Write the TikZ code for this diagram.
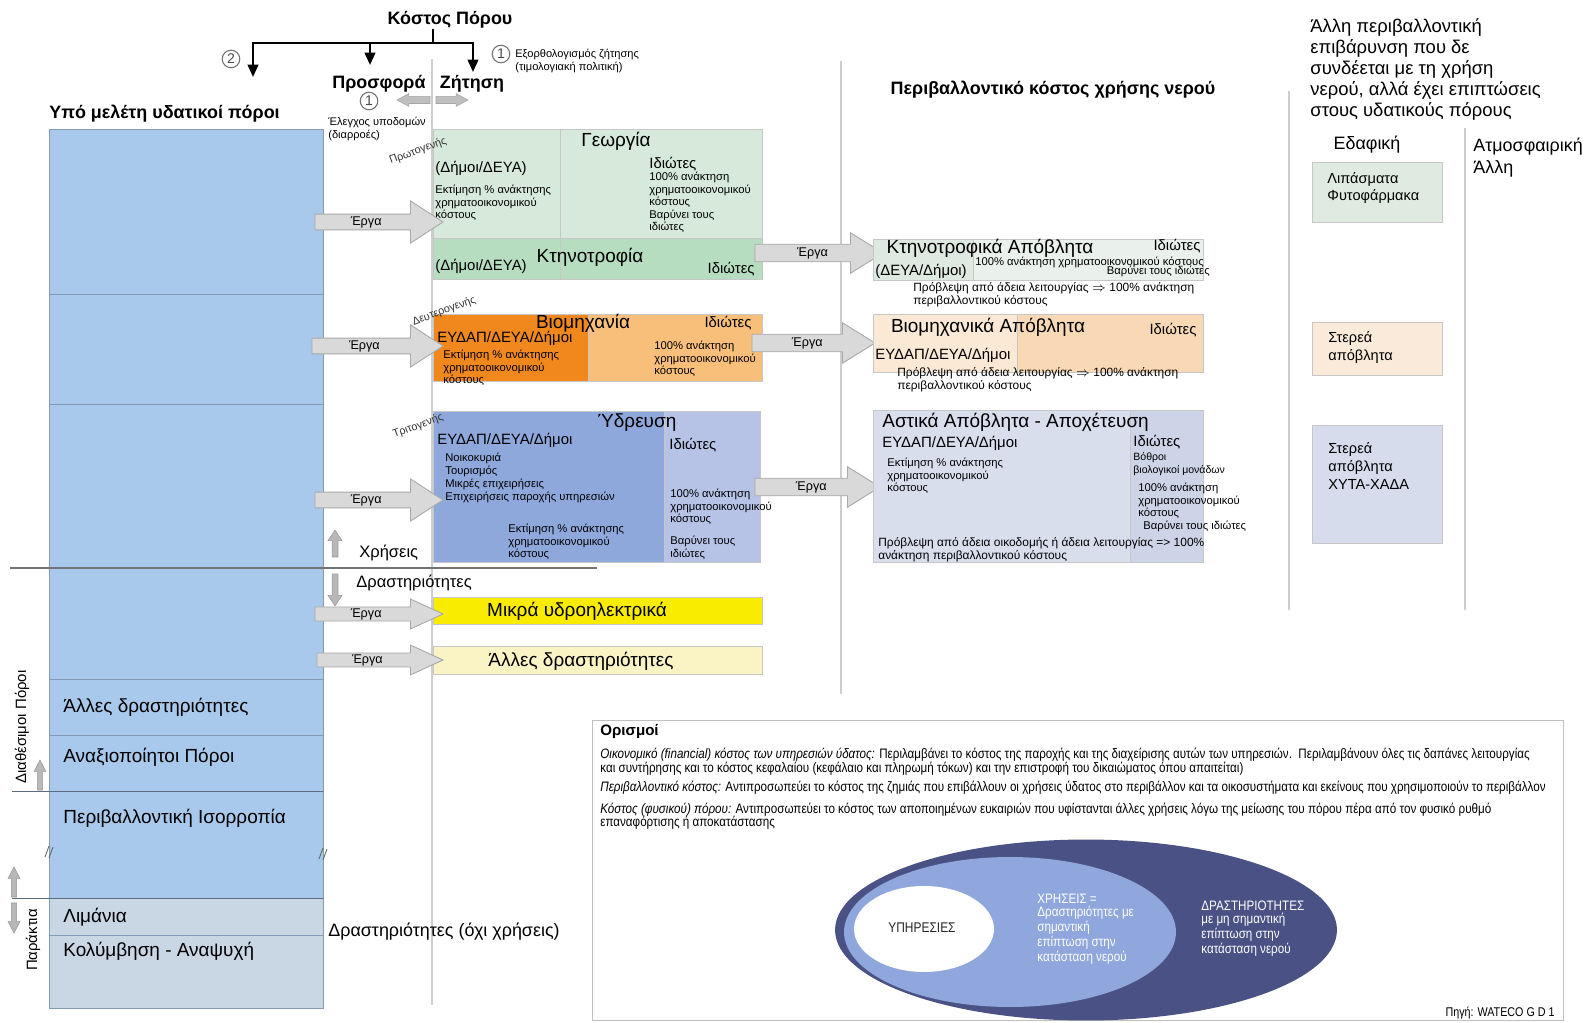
\documentclass[tikz,border=0pt]{standalone}
\usepackage{fontspec}
\setmainfont{Liberation Sans}
\newfontfamily\narrowfont{Liberation Sans}[FakeStretch=0.85]
\usetikzlibrary{positioning, calc, shapes.geometric, arrows.meta}

\definecolor{colblue}{RGB}{168,201,236}
\definecolor{colgrey}{RGB}{201,214,228}
\definecolor{colline}{RGB}{130,155,185}
\definecolor{geogreen}{RGB}{214,233,219}
\definecolor{ktngreen}{RGB}{183,221,193}
\definecolor{biodark}{RGB}{240,136,30}
\definecolor{biolight}{RGB}{248,191,122}
\definecolor{ydrdark}{RGB}{143,168,220}
\definecolor{ydrlight}{RGB}{182,195,230}
\definecolor{mikyellow}{RGB}{250,236,0}
\definecolor{allyellow}{RGB}{250,243,196}
\definecolor{ktwleft}{RGB}{222,233,226}
\definecolor{ktwright}{RGB}{234,240,236}
\definecolor{bwleft}{RGB}{252,233,213}
\definecolor{bwright}{RGB}{249,217,181}
\definecolor{awleft}{RGB}{217,222,237}
\definecolor{awright}{RGB}{206,212,231}
\definecolor{lipgreen}{RGB}{223,235,224}
\definecolor{sterpeach}{RGB}{250,234,218}
\definecolor{xytablue}{RGB}{214,220,236}
\definecolor{ellnavy}{RGB}{74,82,133}
\definecolor{ellblue}{RGB}{143,167,221}
\definecolor{ergafill}{RGB}{217,217,217}
\definecolor{ergaline}{RGB}{168,168,168}
\definecolor{ruleg}{RGB}{205,205,205}

% block arrow: [style]{start}{tip}{body half}{head half}{head length}
\newcommand{\blockarrow}[6][]{%
  \coordinate (hb) at ($(#3)!#6!(#2)$);
  \draw[#1] ($(#2)!#4!90:(#3)$) -- ($(hb)!#4!-90:(#2)$) -- ($(hb)!#5!-90:(#2)$)
    -- (#3) -- ($(hb)!#5!90:(#2)$) -- ($(hb)!#4!90:(#2)$) -- ($(#2)!#4!-90:(#3)$) -- cycle;}

\tikzset{
  box/.style={draw=black!22, inner sep=0pt, anchor=north west},
  hd/.style={font=\bfseries\fontsize{10.2}{12}\selectfont, inner sep=0pt},
  big/.style={font=\fontsize{10.8}{12}\selectfont, inner sep=0pt},
  mid/.style={font=\fontsize{8.5}{10}\selectfont, inner sep=0pt},
  sm/.style={font=\fontsize{6.4}{7.1}\selectfont, inner sep=0pt, align=left, anchor=north west},
  tag/.style={font=\fontsize{6.2}{7}\selectfont, inner sep=0pt, rotate=20, text=black!80},
  erga/.style={fill=ergafill, draw=ergaline, line width=0.5pt},
  ergalabel/.style={font=\fontsize{7.2}{8}\selectfont, inner sep=0pt},
  circnum/.style={circle, draw=black!55, line width=0.6pt, inner sep=0.4pt, minimum size=10pt,
    font=\fontsize{8}{8}\selectfont, text=black!70},
  divider/.style={draw=ruleg, line width=1.2pt},
  bracket/.style={line width=1.3pt, -{Triangle[length=7pt,width=6pt]}},
  defs/.style={font=\narrowfont\fontsize{7.8}{9}\selectfont, inner sep=0pt, anchor=west},
  elltext/.style={font=\narrowfont\fontsize{7.8}{7.4}\selectfont, inner sep=0pt, align=left, anchor=north west},
}

\begin{document}
\begin{tikzpicture}[x=0.02cm, y=-0.02cm]
\useasboundingbox (0,0) rectangle (1594,1023);
\fill[white] (0,0) rectangle (1594,1023);

% header
\node[hd] (kostos) at (450,20) {Κόστος Πόρου};
\coordinate (brc) at (433,43);
\coordinate (tip2) at (253,77);
\coordinate (tipp) at (370,65);
\coordinate (tipz) at (473,72);
\draw[line width=1.3pt] (kostos.south -| brc) -- (brc);
\draw[bracket] (brc) -| (tip2);
\draw[bracket] (brc) -| (tipp);
\draw[bracket] (brc) -| (tipz);
\node[circnum] (n2) at (231,59) {2};
\node[circnum] (n1a) at (501,54) {1};
\node[sm, font=\fontsize{6.3}{7.4}\selectfont] (rat) at (515,49) {Εξορθολογισμός ζήτησης\\(τιμολογιακή πολιτική)};
\node[hd] (prosf) at (379,84) {Προσφορά};
\node[hd] (zit) at (472,84) {Ζήτηση};
\node[circnum] (n1b) at (369,101) {1};
\node[sm, font=\fontsize{6.3}{7.4}\selectfont] (elegx) at (328,117) {Έλεγχος υποδομών\\(διαρροές)};
\coordinate (la) at (430,100); \coordinate (lb) at (397,100);
\coordinate (ra) at (436,100); \coordinate (rb) at (468,100);
\blockarrow[fill=black!25, draw=black!35, line width=0.3pt]{la}{lb}{2pt}{3.7pt}{6.8pt}
\blockarrow[fill=black!25, draw=black!35, line width=0.3pt]{ra}{rb}{2pt}{3.7pt}{6.8pt}

% dividers
\draw[divider] (432,59) -- (432,1005);
\draw[divider] (841,61) -- (841,694);
\draw[divider] (1289,91) -- (1289,610);
\draw[divider] (1465,128) -- (1465,610);

% water resources column
\node[hd, anchor=west] (ypo) at (49,114) {Υπό μελέτη υδατικοί πόροι};
\node[box, fill=colblue, draw=colline, minimum width=5.48cm, minimum height=15.38cm] (col) at (49,129) {};
\node[box, fill=colgrey, draw=colline, minimum width=5.48cm, minimum height=2.2cm] (colb) at (49,898) {};
\foreach \yy in {294,404,679,735,935}
  \draw[colline, line width=0.4pt] (49,\yy) -- (323,\yy);
\draw[black!55, line width=0.6pt] (10,568) -- (597,568);
\draw[colline!70!black, line width=0.5pt] (12,791) -- (323,791);
\draw[colline!70!black, line width=0.5pt] (12,898) -- (323,898);
\draw[black!60, line width=0.5pt] (45,857) -- (49,846) (49,858) -- (53,847);
\draw[black!60, line width=0.5pt] (319,859) -- (323,848) (323,860) -- (327,849);
\node[big, anchor=west] (allesd) at (63,707) {Άλλες δραστηριότητες};
\node[big, anchor=west] (anax) at (63,757) {Αναξιοποίητοι Πόροι};
\node[big, anchor=west] (isor) at (63,818) {Περιβαλλοντική Ισορροπία};
\node[big, anchor=west] (liman) at (63,917) {Λιμάνια};
\node[big, anchor=west] (kolym) at (63,951) {Κολύμβηση - Αναψυχή};
\node[mid, rotate=90] (diath) at (22,727) {Διαθέσιμοι Πόροι};
\node[mid, rotate=90] (parak) at (33,940) {Παράκτια};
\coordinate (u1a) at (40,790); \coordinate (u1b) at (40,760);
\coordinate (u2a) at (14,897); \coordinate (u2b) at (14,867);
\coordinate (d2a) at (14,903); \coordinate (d2b) at (14,933);
\blockarrow[fill=black!28, draw=black!40, line width=0.3pt]{u1a}{u1b}{1.5pt}{3.4pt}{6.5pt}
\blockarrow[fill=black!28, draw=black!40, line width=0.3pt]{u2a}{u2b}{1.5pt}{3.4pt}{6.5pt}
\blockarrow[fill=black!28, draw=black!40, line width=0.3pt]{d2a}{d2b}{1.5pt}{3.4pt}{6.5pt}
\node[big, font=\fontsize{10.2}{12}\selectfont, anchor=west] (doxi) at (328,932) {Δραστηριότητες (όχι χρήσεις)};

% uses / activities
\node[mid, font=\fontsize{9.4}{11}\selectfont, anchor=west] (xris) at (359,553) {Χρήσεις};
\node[mid, font=\fontsize{9.4}{11}\selectfont, anchor=west] (drast) at (356,583) {Δραστηριότητες};
\coordinate (xa) at (335,557); \coordinate (xb) at (335,530);
\coordinate (da) at (335,574); \coordinate (db) at (335,606);
\blockarrow[fill=black!28, draw=black!40, line width=0.3pt]{xa}{xb}{1.7pt}{4pt}{6pt}
\blockarrow[fill=black!28, draw=black!40, line width=0.3pt]{da}{db}{1.7pt}{4pt}{6pt}

% Γεωργία / Κτηνοτροφία
\node[box, fill=geogreen, minimum width=6.58cm, minimum height=2.18cm] (geo) at (433,129) {};
\node[box, fill=ktngreen, minimum width=6.58cm, minimum height=0.82cm] (ktn) at (433,238) {};
\draw[black!22] (560,129) -- (560,279);
\node[big] (geot) at (616,141) {Γεωργία};
\node[tag] (prot) at (418,151) {Πρωτογενής};
\node[mid, anchor=west] (geodim) at (435,168) {(Δήμοι/ΔΕΥΑ)};
\node[sm] (geoek) at (435,185) {Εκτίμηση \% ανάκτησης\\χρηματοοικονομικού\\κόστους};
\node[mid, anchor=west] (geoid) at (649,164) {Ιδιώτες};
\node[sm] (geo100) at (649,172) {100\% ανάκτηση\\χρηματοοικονομικού\\κόστους\\Βαρύνει τους\\ιδιώτες};
\node[mid, anchor=west] (ktndim) at (435,266) {(Δήμοι/ΔΕΥΑ)};
\node[big] (ktnt) at (590,257) {Κτηνοτροφία};
\node[mid, anchor=east] (ktnid) at (755,269) {Ιδιώτες};

% Βιομηχανία
\node[box, fill=biolight, minimum width=6.58cm, minimum height=1.34cm] (bio) at (433,314) {};
\node[box, fill=biodark, minimum width=3.1cm, minimum height=1.34cm] (biol) at (433,314) {};
\node[tag] (deut) at (444,311) {Δευτερογενής};
\node[big] (biot) at (583,323) {Βιομηχανία};
\node[mid] (bioid) at (728,323) {Ιδιώτες};
\node[mid, anchor=west] (biodim) at (437,338) {ΕΥΔΑΠ/ΔΕΥΑ/Δήμοι};
\node[sm] (bioek) at (443,350) {Εκτίμηση \% ανάκτησης\\χρηματοοικονομικού\\κόστους};
\node[sm] (bio100) at (654,341) {100\% ανάκτηση\\χρηματοοικονομικού\\κόστους};

% Ύδρευση
\node[box, fill=ydrlight, minimum width=6.54cm, minimum height=3.02cm] (ydr) at (433,411) {};
\node[box, fill=ydrdark, minimum width=4.62cm, minimum height=3.02cm] (ydrl) at (433,411) {};
\node[tag] (trit) at (418,426) {Τριτογενής};
\node[big] (ydrt) at (637,423) {Ύδρευση};
\node[mid, anchor=west] (ydrdim) at (437,440) {ΕΥΔΑΠ/ΔΕΥΑ/Δήμοι};
\node[sm, font=\fontsize{6.4}{7.4}\selectfont] (ydrnoik) at (445,453) {Νοικοκυριά\\Τουρισμός\\Μικρές επιχειρήσεις\\Επιχειρήσεις παροχής υπηρεσιών};
\node[sm] (ydrek) at (508,524) {Εκτίμηση \% ανάκτησης\\χρηματοοικονομικού\\κόστους};
\node[mid, anchor=west] (ydrid) at (669,445) {Ιδιώτες};
\node[sm] (ydr100) at (670,489) {100\% ανάκτηση\\χρηματοοικονομικού\\κόστους};
\node[sm] (ydrbar) at (670,536) {Βαρύνει τους\\ιδιώτες};

% activities
\node[box, fill=mikyellow, minimum width=6.58cm, minimum height=0.54cm] (mik) at (433,597) {};
\node[big] (mikt) at (577,611) {Μικρά υδροηλεκτρικά};
\node[box, fill=allyellow, minimum width=6.58cm, minimum height=0.56cm] (alla) at (433,646) {};
\node[big] (allat) at (581,661) {Άλλες δραστηριότητες};

% Έργα
\coordinate (e1a) at (315,222); \coordinate (e1b) at (443,222);
\coordinate (e2a) at (312,346); \coordinate (e2b) at (443,346);
\coordinate (e3a) at (315,500); \coordinate (e3b) at (443,500);
\coordinate (e4a) at (315,614); \coordinate (e4b) at (443,614);
\coordinate (e5a) at (317,660); \coordinate (e5b) at (443,660);
\blockarrow[erga]{e1a}{e1b}{4.5pt}{12pt}{18.5pt}
\blockarrow[erga]{e2a}{e2b}{4.5pt}{12pt}{18.5pt}
\blockarrow[erga]{e3a}{e3b}{4.5pt}{12pt}{18.5pt}
\blockarrow[erga]{e4a}{e4b}{4pt}{8.5pt}{18.5pt}
\blockarrow[erga]{e5a}{e5b}{4pt}{8.5pt}{18.5pt}
\foreach \ee in {1,...,5}
  \node[ergalabel] (erga\ee) at ($(e\ee a)!0.4!(e\ee b)$) {Έργα};

\coordinate (f1a) at (755,253); \coordinate (f1b) at (883,253);
\coordinate (f2a) at (752,343); \coordinate (f2b) at (875,343);
\coordinate (f3a) at (755,487); \coordinate (f3b) at (880,487);
\blockarrow[erga]{f1a}{f1b}{5pt}{11.5pt}{18.5pt}
\blockarrow[erga]{f2a}{f2b}{5pt}{11.5pt}{18.5pt}
\blockarrow[erga]{f3a}{f3b}{5pt}{11.5pt}{18.5pt}
\foreach \ee in {1,2,3}
  \node[ergalabel] (ergb\ee) at ($(f\ee a)!0.45!(f\ee b)$) {Έργα};

% environmental cost
\node[hd] (perib) at (1053,90) {Περιβαλλοντικό κόστος χρήσης νερού};

\node[box, fill=ktwright, minimum width=6.6cm, minimum height=0.82cm] (ktw) at (873,239) {};
\node[box, fill=ktwleft, minimum width=2cm, minimum height=0.82cm] (ktwl) at (873,239) {};
\node[big] (ktwt) at (990,248) {Κτηνοτροφικά Απόβλητα};
\node[mid] (ktwid) at (1177,246) {Ιδιώτες};
\node[mid, anchor=west] (ktwdim) at (875,271) {(ΔΕΥΑ/Δήμοι)};
\node[sm, anchor=west] (ktw100) at (975,262) {100\% ανάκτηση χρηματοοικονομικού κόστους};
\node[sm, anchor=east] (ktwbar) at (1210,271) {Βαρύνει τους ιδιώτες};
\node[sm, font=\fontsize{6.8}{7.4}\selectfont] (ktwpr) at (913,282) {Πρόβλεψη από άδεια λειτουργίας $\Rightarrow$ 100\% ανάκτηση\\περιβαλλοντικού κόστους};

\node[box, fill=bwleft, minimum width=6.6cm, minimum height=1.16cm] (bw) at (873,314) {};
\node[box, fill=bwright, minimum width=3.72cm, minimum height=1.16cm] (bwr) at (1017,314) {};
\node[big] (bwt) at (988,327) {Βιομηχανικά Απόβλητα};
\node[mid] (bwid) at (1173,330) {Ιδιώτες};
\node[mid, anchor=west] (bwdim) at (875,355) {ΕΥΔΑΠ/ΔΕΥΑ/Δήμοι};
\node[sm, font=\fontsize{6.8}{7.4}\selectfont] (bwpr) at (897,367) {Πρόβλεψη από άδεια λειτουργίας $\Rightarrow$ 100\% ανάκτηση\\περιβαλλοντικού κόστους};

\node[box, fill=awleft, minimum width=6.6cm, minimum height=3.04cm] (aw) at (873,410) {};
\node[box, fill=awright, minimum width=1.46cm, minimum height=3.04cm] (awr) at (1130,410) {};
\node[big, anchor=west] (awt) at (882,422) {Αστικά Απόβλητα - Αποχέτευση};
\node[mid, anchor=west] (awdim) at (882,443) {ΕΥΔΑΠ/ΔΕΥΑ/Δήμοι};
\node[sm] (awek) at (887,458) {Εκτίμηση \% ανάκτησης\\χρηματοοικονομικού\\κόστους};
\node[sm, font=\fontsize{6.8}{7.4}\selectfont] (awpr) at (878,537) {Πρόβλεψη από άδεια οικοδομής ή άδεια λειτουργίας => 100\%\\ανάκτηση περιβαλλοντικού κόστους};
\node[mid, anchor=west] (awid) at (1133,442) {Ιδιώτες};
\node[sm, font=\fontsize{6}{7.4}\selectfont] (awvoth) at (1133,452) {Βόθροι\\βιολογικοί μονάδων};
\node[sm] (aw100) at (1138,483) {100\% ανάκτηση\\χρηματοοικονομικού\\κόστους};
\node[sm, anchor=west] (awbar) at (1143,526) {Βαρύνει τους ιδιώτες};

% other pressures
\node[sm, font=\fontsize{10.5}{12}\selectfont] (allh) at (1310,18) {Άλλη περιβαλλοντική\\επιβάρυνση που δε\\συνδέεται με τη χρήση\\νερού, αλλά έχει επιπτώσεις\\στους υδατικούς πόρους};
\node[big, font=\fontsize{10.2}{12}\selectfont] (edaf) at (1367,145) {Εδαφική};
\node[sm, font=\fontsize{10.2}{12.5}\selectfont] (atmo) at (1473,138) {Ατμοσφαιρική\\Άλλη};
\node[box, fill=lipgreen, minimum width=2.6cm, minimum height=1.2cm] (lip) at (1312,162) {};
\node[sm, font=\fontsize{8.3}{9.6}\selectfont] (lipt) at (1327,172) {Λιπάσματα\\Φυτοφάρμακα};
\node[box, fill=sterpeach, minimum width=2.6cm, minimum height=1.06cm] (ster) at (1312,322) {};
\node[sm, font=\fontsize{8.3}{10.2}\selectfont] (stert) at (1328,331) {Στερεά\\απόβλητα};
\node[box, fill=xytablue, minimum width=2.6cm, minimum height=2.36cm] (xyta) at (1312,425) {};
\node[sm, font=\fontsize{8.3}{10.2}\selectfont] (xytat) at (1328,442) {Στερεά\\απόβλητα\\ΧΥΤΑ-ΧΑΔΑ};

% definitions
\node[box, draw=black!25, minimum width=19.42cm, minimum height=6cm] (defbox) at (592,720) {};
\node[hd, font=\bfseries\fontsize{8.6}{10}\selectfont, anchor=west] (oris) at (600,731) {Ορισμοί};
\node[defs] (def1) at (600,755) {\textit{Οικονομικό (financial) κόστος των υπηρεσιών ύδατος:} Περιλαμβάνει το κόστος της παροχής και της διαχείρισης αυτών των υπηρεσιών.\ \ Περιλαμβάνουν όλες τις δαπάνες λειτουργίας};
\node[defs] (def2) at (600,769) {και συντήρησης και το κόστος κεφαλαίου (κεφάλαιο και πληρωμή τόκων) και την επιστροφή του δικαιώματος όπου απαιτείται)};
\node[defs] (def3) at (600,788) {\textit{Περιβαλλοντικό κόστος:} Αντιπροσωπεύει το κόστος της ζημιάς που επιβάλλουν οι χρήσεις ύδατος στο περιβάλλον και τα οικοσυστήματα και εκείνους που χρησιμοποιούν το περιβάλλον};
\node[defs] (def4) at (600,810) {\textit{Κόστος (φυσικού) πόρου:} Αντιπροσωπεύει το κόστος των αποποιημένων ευκαιριών που υφίστανται άλλες χρήσεις λόγω της μείωσης του πόρου πέρα από τον φυσικό ρυθμό};
\node[defs] (def5) at (600,823) {επαναφόρτισης ή αποκατάστασης};

\node[ellipse, fill=ellnavy, inner sep=0pt, minimum width=10.04cm, minimum height=3.62cm] (actout) at (1086,930) {};
\node[ellipse, fill=ellblue, inner sep=0pt, minimum width=6.64cm, minimum height=3cm] (usemid) at (1010,932) {};
\node[ellipse, fill=white, inner sep=0pt, minimum width=2.8cm, minimum height=1.72cm] (servin) at (924,929) {};
\node[defs, anchor=center, font=\narrowfont\fontsize{8}{8}\selectfont, text=black!85] (servt) at (922,928) {ΥΠΗΡΕΣΙΕΣ};
\node[elltext, text=white] (uset) at (1037,894) {ΧΡΗΣΕΙΣ =\\Δραστηριότητες με\\σημαντική\\επίπτωση στην\\κατάσταση νερού};
\node[elltext, text=white] (actt) at (1201,901) {ΔΡΑΣΤΗΡΙΟΤΗΤΕΣ\\με μη σημαντική\\επίπτωση στην\\κατάσταση νερού};
\node[defs, anchor=east, font=\narrowfont\fontsize{7.2}{8}\selectfont] (src) at (1555,1013) {Πηγή: WATECO G D 1};
\end{tikzpicture}
\end{document}
